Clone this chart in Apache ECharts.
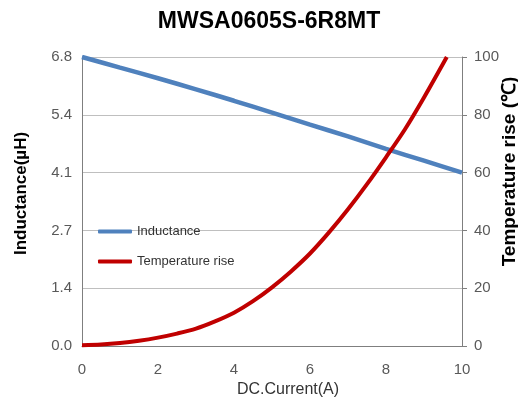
<!DOCTYPE html>
<html>
<head>
<meta charset="utf-8">
<script src="https://cdn.jsdelivr.net/npm/echarts@6/dist/echarts.min.js"></script>
<style>html,body{margin:0;padding:0;background:#fff;}#c{width:518px;height:406px;}</style>
</head>
<body>
<div id="c"></div>
<script>
const chartTitle = 'MWSA0605S-6R8MT';
const currentL = [0, 1, 2, 3, 4, 5, 6, 7, 8, 9, 10];
const inductance = [6.80, 6.55, 6.30, 6.04, 5.77, 5.49, 5.21, 4.93, 4.64, 4.36, 4.08];
const currentT = [0, 0.5, 1, 1.5, 2, 2.5, 3, 3.5, 4, 4.5, 5, 5.5, 6, 6.5, 7, 7.5, 8, 8.5, 9, 9.6];
const tempRise = [0.3, 0.5, 1.0, 1.8, 2.9, 4.3, 6.0, 8.5, 11.5, 15.5, 20.3, 25.8, 32.0, 39.3, 47.3, 56.0, 65.3, 75.0, 86.0, 100];
const seriesNames = ['Inductance', 'Temperature rise'];

const sans = '"Liberation Sans", Arial, sans-serif';
const chart = echarts.init(document.getElementById('c'));
chart.setOption({
  animation: false,
  backgroundColor: '#fff',
  title: {
    text: chartTitle, left: 269, textAlign: 'center', top: 10, padding: 0,
    textStyle: { fontFamily: sans, fontWeight: 'bold', fontSize: 23, color: '#000' }
  },
  legend: {
    orient: 'vertical', left: 98, top: 225, itemGap: 17, padding: 0,
    itemWidth: 34, itemHeight: 4, icon: 'roundRect',
    textStyle: { fontFamily: sans, fontSize: 13, color: '#333' },
    data: seriesNames
  },
  grid: { left: 82, right: 56, top: 57, bottom: 60, outerBoundsMode: 'none', containLabel: false },
  xAxis: {
    type: 'value', min: 0, max: 10, interval: 2,
    name: 'DC.Current(A)', nameLocation: 'middle', nameGap: 31,
    nameTextStyle: { fontFamily: sans, fontSize: 16, color: '#333', padding: [0, 0, 0, 32] },
    axisLine: { show: true, lineStyle: { color: '#7f7f7f' } },
    axisTick: { show: false },
    axisLabel: { fontFamily: sans, fontSize: 15, color: '#595959', margin: 16 },
    splitLine: { show: false }
  },
  yAxis: [
    {
      type: 'value', min: 0, max: 6.8, interval: 1.36,
      name: 'Inductance(µH)', nameLocation: 'middle', nameGap: 52,
      nameTextStyle: { fontFamily: sans, fontWeight: 'bold', fontSize: 17, color: '#000', padding: [0, 0, 0, 16] },
      axisLine: { show: true, lineStyle: { color: '#7f7f7f' } },
      axisTick: { show: false },
      axisLabel: { fontFamily: sans, fontSize: 15, color: '#595959', margin: 10, formatter: v => v.toFixed(1) },
      splitLine: { show: true, lineStyle: { color: '#bfbfbf' } }
    },
    {
      type: 'value', min: 0, max: 100, interval: 20, position: 'right',
      name: 'Temperature rise (℃)', nameLocation: 'middle', nameGap: 38, nameRotate: 90,
      nameMoveOverlap: false,
      nameTextStyle: { fontFamily: sans, fontWeight: 'bold', fontSize: 19, color: '#000', padding: [0, 0, 0, 60] },
      axisLine: { show: true, lineStyle: { color: '#7f7f7f' } },
      axisTick: { show: true, inside: false, length: 5, lineStyle: { color: '#7f7f7f' } },
      axisLabel: { fontFamily: sans, fontSize: 15, color: '#595959', margin: 12 },
      splitLine: { show: false }
    }
  ],
  series: [
    {
      name: seriesNames[0], type: 'line', yAxisIndex: 0, smooth: 0.3, showSymbol: false,
      lineStyle: { color: '#4F81BD', width: 4.5 }, itemStyle: { color: '#4F81BD' },
      data: currentL.map((x, i) => [x, inductance[i]])
    },
    {
      name: seriesNames[1], type: 'line', yAxisIndex: 1, smooth: 0.3, showSymbol: false,
      lineStyle: { color: '#C00000', width: 4 }, itemStyle: { color: '#C00000' },
      data: currentT.map((x, i) => [x, tempRise[i]])
    }
  ]
});
</script>
</body>
</html>
